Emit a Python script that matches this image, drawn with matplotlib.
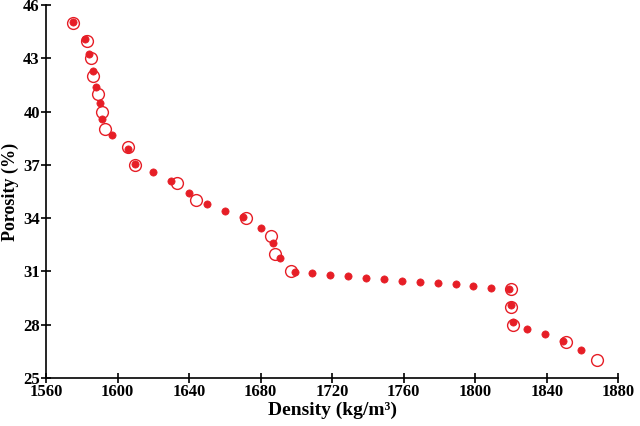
import numpy as np
import matplotlib
matplotlib.use('Agg')
import matplotlib.pyplot as plt

# open circles: one reading per whole porosity value
open_density = [1575, 1583, 1585, 1586, 1589, 1591, 1593, 1606, 1610, 1633,
                1644, 1672, 1686, 1688, 1697, 1820, 1820, 1821, 1851, 1868]
open_porosity = [45, 44, 43, 42, 41, 40, 39, 38, 37, 36,
                 35, 34, 33, 32, 31, 30, 29, 28, 27, 26]

# filled dots
filled_density = [1575, 1582, 1584, 1586, 1588, 1590, 1591, 1597, 1606, 1610,
                  1620, 1630, 1640, 1650, 1660, 1670, 1680, 1687, 1691, 1699,
                  1709, 1719, 1729, 1739, 1749, 1759, 1769, 1779, 1789, 1799,
                  1809, 1819, 1820, 1821, 1829, 1839, 1849, 1859]
filled_porosity = [45.06, 44.1, 43.25, 42.3, 41.4, 40.5, 39.6, 38.7, 37.9, 37.05,
                   36.6, 36.1, 35.4, 34.8, 34.4, 34.05, 33.45, 32.6, 31.75, 30.98,
                   30.88, 30.8, 30.74, 30.65, 30.56, 30.48, 30.42, 30.33, 30.27, 30.18,
                   30.08, 29.99, 29.13, 28.17, 27.75, 27.46, 27.08, 26.57]

xticks = [1560, 1600, 1640, 1680, 1720, 1760, 1800, 1840, 1880]
yticks = [25, 28, 31, 34, 37, 40, 43, 46]

red = '#e61e26'

fig = plt.figure(figsize=(6.4, 4.26), dpi=100)
ax = fig.add_axes([0.072, 0.113, 0.894, 0.875])

ax.plot(open_density, open_porosity, 'o', ms=8.5, mfc='none', mec=red, mew=1.0,
        zorder=2, clip_on=False)
ax.plot(filled_density, filled_porosity, 'o', ms=5.2, mfc=red, mec=red, mew=0.5,
        zorder=3, clip_on=False)

ax.set_xlim(1560, 1880)
ax.set_ylim(25, 46)
ax.set_xticks(xticks)
ax.set_yticks(yticks)

for s in ['top', 'right']:
    ax.spines[s].set_visible(False)
for s in ['left', 'bottom']:
    ax.spines[s].set_linewidth(1.2)

ax.tick_params(direction='inout', length=7, width=1.2, pad=1)
tick_font = dict(family='Liberation Serif', weight='bold', size=12)
ax.set_xticklabels([str(t) for t in xticks], **tick_font)
ax.set_yticklabels([str(t) for t in yticks], **tick_font)

ax.set_xlabel('Density (kg/m\u00b3)', family='Liberation Serif',
              weight='bold', size=14, labelpad=1)
ax.set_ylabel('Porosity (%)', family='Liberation Serif', weight='bold',
              size=13, labelpad=3)

fig.savefig('out.png', dpi=100)
